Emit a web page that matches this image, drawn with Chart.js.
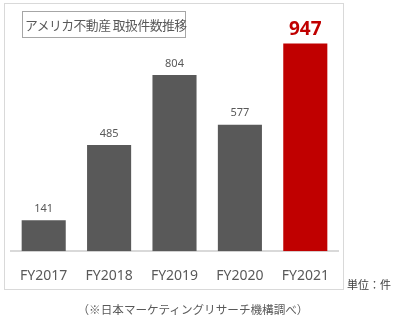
<!DOCTYPE html>
<html>
<head>
<meta charset="utf-8">
<script src="https://cdn.jsdelivr.net/npm/chart.js@4"></script>
<style>
  body { margin: 0; background: #fff; }
  #wrap { position: relative; width: 394px; height: 324px; font-family: "Noto Sans CJK JP", sans-serif; color: #595959; }
  #frame { position: absolute; left: 4px; top: 3px; width: 340px; height: 287px; border: 1px solid #d9d9d9; box-sizing: border-box; }
  #title { position: absolute; left: 22px; top: 11px; width: 164px; height: 27px; border: 1px solid #a6a6a6; box-sizing: border-box;
           font-size: 12.8px; line-height: 25px; padding-left: 2px; white-space: nowrap; letter-spacing: -0.5px; }
  #unit { position: absolute; left: 347px; top: 276px; font-size: 11px; color: #404040; }
  #note { position: absolute; left: 0; width: 386px; top: 301px; font-size: 11.6px; text-align: center; }
  canvas { position: absolute; left: 0; top: 0; }
</style>
</head>
<body>
<div id="wrap">
  <div id="frame"></div>
  <canvas id="myChart" width="394" height="324"></canvas>
  <div id="title">アメリカ不動産 取扱件数推移</div>
  <div id="unit">単位：件</div>
  <div id="note">（※日本マーケティングリサーチ機構調べ）</div>
</div>
<script>
const years = ["FY2017", "FY2018", "FY2019", "FY2020", "FY2021"];
const deals = [141, 485, 804, 577, 947];
const barColors = ["#595959", "#595959", "#595959", "#595959", "#c00000"];

// value labels above each bar, last one big and red
const valueLabels = {
  id: "valueLabels",
  afterDatasetsDraw(chart) {
    const ctx = chart.ctx;
    const meta = chart.getDatasetMeta(0);
    ctx.save();
    ctx.textAlign = "center";
    ctx.textBaseline = "bottom";
    meta.data.forEach((bar, i) => {
      const last = i === deals.length - 1;
      ctx.fillStyle = last ? "#c00000" : "#595959";
      ctx.font = last ? "bold 19px 'Noto Sans', sans-serif" : "11px 'Noto Sans', sans-serif";
      ctx.fillText(deals[i], bar.x, bar.y - (last ? 5 : 6));
    });
    ctx.restore();
  }
};

new Chart(document.getElementById("myChart"), {
  type: "bar",
  data: {
    labels: years,
    datasets: [{
      data: deals,
      backgroundColor: barColors,
      categoryPercentage: 1,
      barPercentage: 0.674
    }]
  },
  options: {
    responsive: false,
    animation: false,
    layout: { padding: { left: 11, right: 56, top: 32, bottom: 32 } },
    plugins: { legend: { display: false }, tooltip: { enabled: false } },
    scales: {
      x: {
        grid: { display: false },
        border: { color: "#d9d9d9", width: 2 },
        ticks: { color: "#595959", padding: 8, font: { family: "'Noto Sans', sans-serif", size: 14 } }
      },
      y: { display: false, min: 0, max: 1000 }
    }
  },
  plugins: [valueLabels]
});
</script>
</body>
</html>
